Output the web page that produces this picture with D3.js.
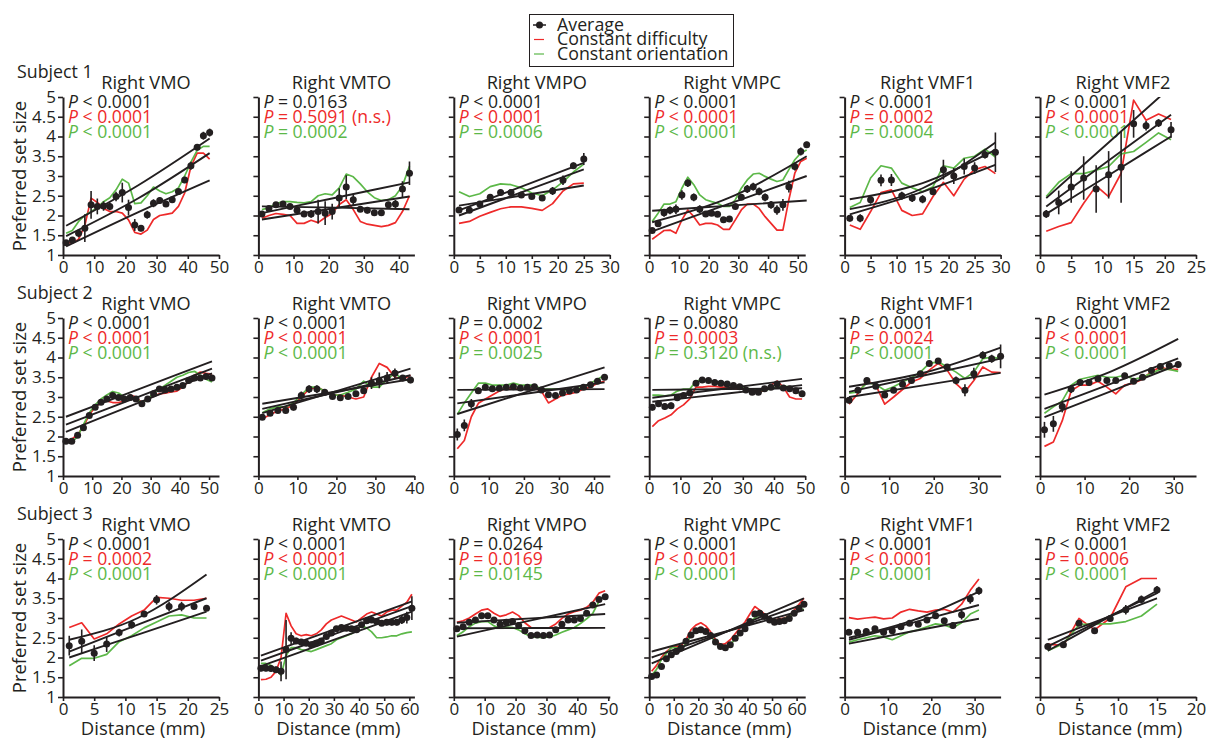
<!DOCTYPE html>
<html><head><meta charset="utf-8">
<script src="https://cdn.jsdelivr.net/npm/d3@7"></script>
<style>
body{margin:0;background:#fff}
svg{display:block}
text{font-family:"Open Sans",Lato,sans-serif;fill:#231f20}
</style>
</head><body>
<svg id="chart" width="1208" height="740"></svg>
<script>
// ---------------- DATA ----------------
const subjects = ["Subject 1", "Subject 2", "Subject 3"];
const regions = ["Right VMO", "Right VMTO", "Right VMPO", "Right VMPC", "Right VMF1", "Right VMF2"];
const distances = [1,3,5,7,9,11,13,15,17,19,21,23,25,27,29,31,33,35,37,39,41,43,45,47,49,51,53,55,57,59,61,63];
const yTicks = [1, 1.5, 2, 2.5, 3, 3.5, 4, 4.5, 5];
const legendLabels = ["Average", "Constant difficulty", "Constant orientation"];

const xMaxS1 = [50, 44.4, 30, 52.5, 30, 25];
const xMaxS2 = [53.4, 40, 44.5, 50, 35, 35];
const xMaxS3 = [25, 62, 50.5, 63.5, 36, 20];
const xTicksS1 = [[0,10,20,30,40,50],[0,10,20,30,40],[0,5,10,15,20,25,30],[0,10,20,30,40,50],[0,5,10,15,20,25,30],[0,5,10,15,20,25]];
const xTicksS2 = [[0,10,20,30,40,50],[0,10,20,30,40],[0,10,20,30,40],[0,10,20,30,40,50],[0,10,20,30],[0,10,20,30]];
const xTicksS3 = [[0,5,10,15,20,25],[0,10,20,30,40,50,60],[0,10,20,30,40,50],[0,10,20,30,40,50,60],[0,10,20,30],[0,5,10,15,20]];

// p-value texts: [average, constant difficulty, constant orientation]
const pS1 = [["< 0.0001","< 0.0001","< 0.0001"],["= 0.0163","= 0.5091 (n.s.)","= 0.0002"],["< 0.0001","< 0.0001","= 0.0006"],["< 0.0001","< 0.0001","< 0.0001"],["< 0.0001","= 0.0002","= 0.0004"],["< 0.0001","< 0.0001","< 0.0001"]];
const pS2 = [["< 0.0001","< 0.0001","< 0.0001"],["< 0.0001","< 0.0001","< 0.0001"],["= 0.0002","< 0.0001","= 0.0025"],["= 0.0080","= 0.0003","= 0.3120 (n.s.)"],["< 0.0001","= 0.0024","< 0.0001"],["< 0.0001","< 0.0001","< 0.0001"]];
const pS3 = [["< 0.0001","= 0.0002","< 0.0001"],["< 0.0001","< 0.0001","< 0.0001"],["= 0.0264","= 0.0169","= 0.0145"],["< 0.0001","< 0.0001","< 0.0001"],["< 0.0001","< 0.0001","< 0.0001"],["< 0.0001","= 0.0006","< 0.0001"]];

// Subject 1
const avgS1 = [
 [1.31,1.38,1.55,1.68,2.27,2.23,2.24,2.23,2.48,2.58,2.2,1.76,1.68,2.02,2.31,2.38,2.29,2.4,2.61,2.9,3.26,3.73,4.02,4.1],
 [2.04,2.18,2.27,2.29,2.23,2.13,2.04,2.04,2.1,2.06,2.1,2.44,2.72,2.4,2.16,2.13,2.07,2.07,2.27,2.29,2.67,3.07],
 [2.14,2.13,2.29,2.46,2.58,2.58,2.52,2.48,2.44,2.62,2.89,3.26,3.43],
 [1.62,1.79,2.07,2.13,2.16,2.52,2.82,2.46,2.16,2.04,2.06,2.03,1.89,1.91,2.23,2.46,2.67,2.73,2.61,2.46,2.27,2.14,2.27,2.73,3.24,3.62,3.79],
 [1.93,1.93,2.4,2.89,2.9,2.5,2.44,2.41,2.6,3.16,3.0,3.24,3.2,3.54,3.6],
 [2.04,2.33,2.72,2.95,2.67,3.03,3.22,4.32,4.27,4.34,4.17]];
const errS1 = [
 [0.05,0.06,0.1,0.35,0.35,0.2,0.12,0.1,0.12,0.25,0.2,0.15,0.08,0.1,0.1,0.08,0.07,0.06,0.06,0.08,0.1,0.08,0.1,0.1],
 [0.06,0.06,0.05,0.05,0.05,0.08,0.08,0.1,0.3,0.3,0.2,0.25,0.3,0.15,0.06,0.08,0.06,0.06,0.08,0.1,0.2,0.3],
 [0.06,0.06,0.05,0.05,0.05,0.05,0.05,0.05,0.07,0.1,0.12,0.08,0.15],
 [0.05,0.08,0.1,0.1,0.12,0.12,0.1,0.1,0.1,0.06,0.05,0.05,0.05,0.05,0.06,0.07,0.1,0.1,0.1,0.1,0.1,0.12,0.15,0.15,0.1,0.1,0.08],
 [0.08,0.1,0.1,0.15,0.15,0.1,0.1,0.1,0.08,0.25,0.2,0.2,0.15,0.1,0.5],
 [0.1,0.3,0.4,0.55,0.6,0.6,0.9,0.35,0.12,0.1,0.2]];
const redS1 = [
 [1.32,1.3,1.4,1.75,2.44,2.33,2.18,2.1,2.1,2.06,1.89,1.57,1.53,1.63,1.9,2.0,2.03,2.06,2.23,2.57,3.24,3.58,3.58,3.43],
 [1.93,2.0,2.05,2.03,2.0,1.8,1.8,1.88,1.82,1.95,2.05,2.28,2.4,2.15,1.85,1.78,1.75,1.72,1.75,1.82,2.1,2.5],
 [1.8,1.85,1.98,2.08,2.17,2.22,2.22,2.18,2.13,2.3,2.62,2.8,2.82],
 [1.4,1.51,1.62,1.63,1.55,1.89,2.14,1.97,1.76,1.8,1.8,1.76,1.65,1.65,1.89,2.14,2.29,2.29,2.18,1.97,1.8,1.63,1.63,2.4,3.07,3.37,3.45],
 [1.76,1.65,2.1,2.58,2.65,2.13,2.0,2.04,2.48,2.84,2.5,2.92,3.16,3.24,3.06],
 [1.6,1.72,1.82,2.31,2.75,2.48,3.07,4.92,4.41,4.57,4.43]];
const greenS1 = [
 [1.55,1.62,1.85,2.0,2.1,2.2,2.35,2.45,2.65,2.92,2.82,2.3,2.32,2.5,2.72,2.62,2.55,2.6,2.7,3.0,3.35,3.65,3.75,3.75],
 [2.15,2.2,2.3,2.35,2.35,2.33,2.32,2.35,2.5,2.55,2.52,2.7,3.05,2.98,2.8,2.6,2.45,2.38,2.4,2.5,2.75,3.25],
 [2.6,2.48,2.55,2.73,2.8,2.78,2.7,2.57,2.5,2.65,2.85,3.1,3.3],
 [1.85,2.06,2.29,2.29,2.35,2.69,2.97,2.78,2.52,2.4,2.35,2.31,2.23,2.23,2.4,2.69,2.9,3.05,3.07,2.99,2.92,2.86,2.9,3.16,3.41,3.58,3.66],
 [2.2,2.33,2.95,3.26,3.2,2.82,2.7,2.6,2.73,3.26,3.2,3.45,3.5,3.68,3.48],
 [2.48,2.84,3.06,3.06,3.15,3.24,3.56,3.62,3.85,4.09,3.92]];
const fitS1 = [
 [[1.74,2.76,3.95],[1.48,2.43,3.58],[1.22,2.08,2.89]],
 [[2.06,2.45,2.84],[1.9,2.19,2.48],[2.23,2.2,2.16]],
 [[2.25,2.76],[2.13,3.33],[2.0,3.17]],
 [[2.12,2.25,2.38],[1.83,2.45,3.5],[1.6,2.3,3.0]],
 [[2.41,2.82,3.66],[2.16,2.69,3.85],[2.03,2.6,3.28]],
 [[2.44,3.85,5.26],[2.23,3.39,4.55],[2.04,3.02,4.0]]];

// Subject 2
const avgS2 = [
 [1.88,1.88,2.03,2.22,2.53,2.74,2.87,2.95,3.04,2.99,2.95,2.99,2.95,2.83,2.95,3.08,3.2,3.18,3.2,3.25,3.29,3.42,3.48,3.48,3.52,3.48],
 [2.49,2.59,2.66,2.66,2.74,3.04,3.2,3.2,3.12,3.01,2.98,3.01,3.08,3.16,3.35,3.42,3.48,3.6,3.48,3.43],
 [2.05,2.28,2.83,3.16,3.25,3.21,3.22,3.25,3.26,3.23,3.25,3.26,3.18,3.06,3.04,3.1,3.15,3.18,3.25,3.31,3.4,3.5],
 [2.74,2.83,2.76,2.78,2.98,3.04,3.1,3.35,3.43,3.42,3.37,3.35,3.33,3.29,3.26,3.18,3.12,3.12,3.21,3.25,3.33,3.23,3.21,3.16,3.08],
 [2.92,3.17,3.42,3.27,3.05,3.17,3.32,3.42,3.59,3.85,3.91,3.76,3.42,3.17,3.59,4.06,3.97,4.03],
 [2.17,2.32,2.76,3.2,3.37,3.37,3.46,3.42,3.42,3.54,3.4,3.5,3.67,3.77,3.79,3.82]];
const errS2 = [
 [0.06,0.06,0.05,0.05,0.05,0.05,0.05,0.05,0.05,0.05,0.05,0.05,0.05,0.05,0.05,0.06,0.06,0.06,0.07,0.07,0.07,0.07,0.07,0.07,0.07,0.07],
 [0.05,0.05,0.05,0.06,0.08,0.1,0.1,0.1,0.05,0.05,0.05,0.05,0.07,0.08,0.15,0.2,0.15,0.12,0.08,0.08],
 [0.15,0.15,0.12,0.08,0.06,0.05,0.05,0.05,0.05,0.05,0.05,0.05,0.05,0.06,0.06,0.05,0.05,0.05,0.05,0.05,0.05,0.05],
 [0.08,0.06,0.08,0.08,0.07,0.07,0.07,0.07,0.05,0.05,0.05,0.05,0.05,0.05,0.05,0.05,0.06,0.06,0.05,0.05,0.05,0.06,0.06,0.07,0.08],
 [0.08,0.07,0.07,0.07,0.07,0.07,0.07,0.07,0.07,0.07,0.07,0.07,0.1,0.15,0.15,0.1,0.1,0.3],
 [0.2,0.2,0.15,0.1,0.08,0.07,0.07,0.07,0.07,0.07,0.07,0.07,0.07,0.07,0.07,0.07]];
const redS2 = [
 [1.9,1.93,2.05,2.25,2.55,2.75,2.85,2.9,2.86,2.86,2.9,3.05,3.0,2.85,2.95,3.02,3.08,3.1,3.13,3.15,3.25,3.4,3.55,3.63,3.6,3.58],
 [2.45,2.55,2.65,2.7,2.8,3.0,3.2,3.25,3.15,3.05,3.05,3.0,2.95,3.0,3.5,3.85,3.75,3.5,3.45,3.55],
 [1.69,1.9,2.5,2.84,2.95,3.05,3.15,3.22,3.2,3.2,3.2,3.22,3.15,2.85,2.95,3.05,3.08,3.12,3.2,3.25,3.35,3.4],
 [2.25,2.4,2.47,2.55,2.7,2.8,2.95,3.25,3.25,3.27,3.27,3.25,3.25,3.22,3.2,3.2,3.17,3.15,3.15,3.3,3.4,3.25,3.0,2.95,2.95],
 [2.82,3.09,3.41,3.3,2.82,3.0,3.19,3.38,3.47,3.68,3.85,3.68,3.34,3.13,3.42,3.76,3.63,3.62],
 [1.75,1.86,2.4,3.16,3.3,3.3,3.4,3.25,3.08,3.3,3.35,3.45,3.65,3.75,3.7,3.7]];
const greenS2 = [
 [1.88,1.85,2.0,2.3,2.6,2.8,2.95,3.05,3.14,3.1,3.0,2.98,2.95,2.85,2.95,3.1,3.2,3.3,3.4,3.5,3.55,3.62,3.65,3.55,3.45,3.38],
 [2.6,2.7,2.75,2.75,2.85,3.05,3.25,3.25,3.15,3.05,3.05,3.12,3.2,3.4,3.25,3.25,3.45,3.6,3.45,3.4],
 [2.56,2.85,3.1,3.35,3.35,3.3,3.3,3.3,3.35,3.3,3.3,3.3,3.2,3.2,3.2,3.2,3.15,3.2,3.25,3.35,3.45,3.55],
 [3.05,3.05,3.03,3.05,3.15,3.2,3.2,3.4,3.45,3.42,3.38,3.35,3.3,3.28,3.25,3.22,3.2,3.18,3.15,3.22,3.25,3.28,3.25,3.15,3.05],
 [3.1,3.13,3.36,3.32,3.17,3.26,3.38,3.49,3.63,3.85,3.89,3.76,3.63,3.47,3.63,3.97,4.01,3.97],
 [2.59,2.75,2.9,3.3,3.45,3.5,3.55,3.5,3.5,3.55,3.45,3.5,3.6,3.7,3.7,3.65]];
const fitS2 = [
 [[2.5,3.2,3.9],[2.3,3.01,3.72],[2.12,2.86,3.6]],
 [[2.83,3.14,3.45],[2.7,3.12,3.55],[2.59,3.15,3.72]],
 [[3.18,3.19,3.2],[2.84,3.1,3.37],[2.57,3.16,3.75]],
 [[3.18,3.2,3.22],[2.98,3.22,3.46],[2.88,3.09,3.3]],
 [[3.26,3.62,4.25],[3.13,3.55,3.97],[3.0,3.3,3.61]],
 [[3.06,3.65,4.47],[2.7,3.34,3.98],[2.49,3.15,3.82]]];

// Subject 3
const avgS3 = [
 [2.3,2.41,2.11,2.34,2.63,2.83,3.1,3.46,3.29,3.29,3.29,3.25],
 [1.73,1.73,1.72,1.69,1.65,2.2,2.49,2.42,2.39,2.36,2.32,2.36,2.42,2.53,2.62,2.73,2.76,2.74,2.73,2.7,2.83,2.93,2.95,2.91,2.87,2.89,2.89,2.89,2.95,3.01,3.25],
 [2.73,2.78,2.89,2.95,3.06,3.06,2.95,2.84,2.89,2.91,2.81,2.68,2.56,2.57,2.56,2.57,2.7,2.84,2.95,2.95,2.99,3.12,3.33,3.47,3.54],
 [1.52,1.56,1.77,1.97,2.07,2.15,2.24,2.41,2.57,2.68,2.7,2.66,2.56,2.39,2.28,2.25,2.32,2.49,2.62,2.73,2.91,3.1,3.12,3.04,2.95,2.89,2.91,2.93,2.99,3.12,3.25,3.35],
 [2.64,2.64,2.66,2.73,2.64,2.68,2.78,2.87,2.84,2.95,3.06,2.93,2.81,3.08,3.48,3.69],
 [2.28,2.32,2.87,2.68,2.99,3.21,3.47,3.71]];
const errS3 = [
 [0.25,0.3,0.2,0.2,0.1,0.1,0.07,0.12,0.12,0.12,0.07,0.07],
 [0.08,0.08,0.08,0.08,0.25,0.75,0.15,0.08,0.06,0.06,0.06,0.06,0.06,0.06,0.06,0.06,0.06,0.06,0.05,0.05,0.06,0.06,0.06,0.07,0.07,0.08,0.08,0.08,0.1,0.15,0.3],
 [0.04,0.04,0.04,0.04,0.04,0.04,0.04,0.04,0.04,0.04,0.04,0.04,0.04,0.04,0.04,0.04,0.04,0.04,0.04,0.04,0.04,0.04,0.04,0.04,0.04],
 [0.05,0.05,0.05,0.05,0.05,0.05,0.05,0.05,0.05,0.05,0.05,0.05,0.05,0.05,0.05,0.05,0.05,0.05,0.05,0.05,0.05,0.05,0.05,0.05,0.05,0.05,0.05,0.05,0.05,0.05,0.05,0.05],
 [0.07,0.07,0.07,0.07,0.08,0.08,0.07,0.07,0.07,0.07,0.07,0.07,0.07,0.12,0.12,0.1],
 [0.07,0.07,0.07,0.07,0.07,0.12,0.1,0.1]];
const redS3 = [
 [2.76,2.88,2.47,2.6,2.85,3.05,3.2,3.52,3.5,3.45,3.45,3.5],
 [1.44,1.45,1.5,1.65,2.0,3.12,2.8,2.6,2.55,2.58,2.55,2.6,2.7,2.85,2.95,3.0,3.05,3.0,2.95,2.9,3.0,3.1,3.15,3.1,3.05,3.15,3.2,3.2,3.3,3.4,3.6],
 [2.89,2.93,3.0,3.1,3.2,3.23,3.12,3.04,3.08,3.15,3.06,2.88,2.76,2.75,2.74,2.76,2.85,2.99,3.1,3.16,3.2,3.27,3.4,3.63,3.69],
 [1.65,1.8,2.0,2.15,2.25,2.28,2.3,2.45,2.7,2.82,2.88,2.8,2.65,2.45,2.32,2.35,2.45,2.6,2.75,2.9,3.1,3.29,3.2,3.1,3.0,2.95,2.98,3.0,3.05,3.2,3.35,3.5],
 [3.01,2.97,3.0,3.02,2.98,3.0,3.15,3.22,3.18,3.15,3.2,3.22,3.15,3.35,3.7,3.99],
 [2.34,2.3,2.99,2.7,3.0,3.79,4.0,4.0]];
const greenS3 = [
 [1.79,1.98,1.98,2.08,2.4,2.55,2.75,2.9,3.05,3.08,3.0,3.0],
 [1.85,1.85,1.8,1.7,1.55,2.05,2.25,2.25,2.2,2.18,2.15,2.2,2.25,2.3,2.35,2.45,2.5,2.55,2.6,2.7,2.8,2.75,2.65,2.5,2.5,2.52,2.55,2.55,2.6,2.63,2.65],
 [2.55,2.65,2.78,2.87,2.91,2.91,2.8,2.74,2.77,2.76,2.7,2.6,2.53,2.51,2.51,2.52,2.57,2.64,2.7,2.76,2.86,2.98,3.12,3.42,3.6],
 [1.55,1.7,1.95,2.1,2.25,2.25,2.22,2.35,2.55,2.65,2.72,2.68,2.55,2.38,2.27,2.25,2.32,2.47,2.6,2.75,2.9,3.0,3.08,3.05,2.98,2.95,2.95,2.98,3.05,3.12,3.2,3.22],
 [2.39,2.45,2.5,2.55,2.52,2.45,2.55,2.65,2.7,2.78,2.85,2.82,2.75,2.88,3.1,3.2],
 [2.17,2.35,2.83,2.85,2.85,2.91,3.05,3.35]];
const fitS3 = [
 [[2.45,3.0,4.1],[2.15,2.83,3.5],[2.0,2.58,3.16]],
 [[2.05,2.73,3.42],[1.92,2.61,3.3],[1.78,2.47,3.16]],
 [[2.88,2.99,3.1],[2.74,2.745,2.75],[2.53,2.94,3.35]],
 [[2.15,2.67,3.2],[2.0,2.67,3.35],[1.85,2.67,3.5]],
 [[2.5,2.95,3.67],[2.45,2.89,3.33],[2.35,2.67,2.98]],
 [[2.45,2.97,3.5],[2.28,2.96,3.63],[2.17,2.93,3.69]]];

// ---------------- LAYOUT / STYLE ----------------
const FONT = "'Open Sans', Lato, sans-serif";
const COL = {black: "#231f20", red: "#ee2a2a", green: "#5cb848"};
const colX = [63, 258.4, 453.8, 649.2, 844.6, 1040];
const panelW = 156;
const rowTop = [97, 318, 539];
const panelH = 158;

const rows = [
  {avg: avgS1, err: errS1, red: redS1, green: greenS1, fit: fitS1, p: pS1, xMax: xMaxS1, xTicks: xTicksS1},
  {avg: avgS2, err: errS2, red: redS2, green: greenS2, fit: fitS2, p: pS2, xMax: xMaxS2, xTicks: xTicksS2},
  {avg: avgS3, err: errS3, red: redS3, green: greenS3, fit: fitS3, p: pS3, xMax: xMaxS3, xTicks: xTicksS3}
];

const svg = d3.select("#chart");
const defs = svg.append("defs");

function styleAxis(sel) {
  sel.select(".domain").attr("stroke", COL.black).attr("stroke-width", 2);
  sel.selectAll(".tick line").attr("stroke", COL.black).attr("stroke-width", 1.6);
  sel.selectAll(".tick text").attr("fill", COL.black).style("font-size", "17px")
     .style("font-family", FONT);
}

rows.forEach((R, r) => {
  const y0 = rowTop[r];
  svg.append("text").attr("x", 17).attr("y", y0 - 19).style("font-size", "17.8px").text(subjects[r]);
  svg.append("text")
    .attr("transform", `translate(26,${y0 + panelH / 2}) rotate(-90)`)
    .attr("text-anchor", "middle").style("font-size", "18.5px").text("Preferred set size");

  regions.forEach((reg, c) => {
    const x0 = colX[c];
    const n = R.avg[c].length;
    const xs = distances.slice(0, n);
    const x = d3.scaleLinear().domain([0, R.xMax[c]]).range([x0, x0 + panelW]);
    const y = d3.scaleLinear().domain([1, 5]).range([y0 + panelH, y0]);
    const g = svg.append("g");

    const clipId = `clip-${r}-${c}`;
    defs.append("clipPath").attr("id", clipId).append("rect")
      .attr("x", x0 - 6).attr("y", y(5)).attr("width", panelW + 12).attr("height", panelH);

    // title
    g.append("text").attr("x", x0 + 83).attr("y", y0 - 8).attr("text-anchor", "middle")
      .style("font-size", "18.2px").text(reg);

    // axes
    const xa = d3.axisBottom(x).tickValues(R.xTicks[c]).tickSize(4).tickSizeOuter(0).tickPadding(2)
      .tickFormat(d3.format("d"));
    g.append("g").attr("transform", `translate(0,${y0 + panelH})`).call(xa).call(styleAxis);
    const ya = d3.axisLeft(y).tickValues(yTicks).tickSize(5).tickSizeOuter(0).tickPadding(2)
      .tickFormat(c === 0 ? (d => String(d)) : (() => ""));
    g.append("g").attr("transform", `translate(${x0},0)`).call(ya).call(styleAxis);

    // p-values
    const pc = [COL.black, COL.red, COL.green];
    R.p[c].forEach((s, k) => {
      const t = g.append("text").attr("x", x0 + 5).attr("y", y0 + 11 + 15 * k)
        .style("font-size", "17.6px").attr("fill", pc[k]).style("fill", pc[k]);
      t.append("tspan").style("font-style", "italic").text("P");
      t.append("tspan").text("\u00a0" + s);
    });

    const plot = g.append("g").attr("clip-path", `url(#${clipId})`);
    const line = d3.line().x((d, i) => x(xs[i])).y(d => y(d)).curve(d3.curveLinear);

    plot.append("path").datum(R.red[c]).attr("d", line).attr("fill", "none")
      .attr("stroke", COL.red).attr("stroke-width", 1.7).attr("stroke-linejoin", "round");
    plot.append("path").datum(R.green[c]).attr("d", line).attr("fill", "none")
      .attr("stroke", COL.green).attr("stroke-width", 1.7).attr("stroke-linejoin", "round");

    // fit lines: values spread evenly from first to last distance
    const xFirst = xs[0], xLast = xs[n - 1];
    R.fit[c].forEach(f => {
      const fx = d3.scaleLinear().domain([0, f.length - 1]).range([xFirst, xLast]);
      const fl = d3.line().x((d, i) => x(fx(i))).y(d => y(d)).curve(d3.curveNatural);
      plot.append("path").datum(f).attr("d", fl).attr("fill", "none")
        .attr("stroke", COL.black).attr("stroke-width", 1.9);
    });

    // error bars + points
    const pts = plot.selectAll("g.pt").data(R.avg[c]).join("g").attr("class", "pt");
    pts.append("line")
      .attr("x1", (d, i) => x(xs[i])).attr("x2", (d, i) => x(xs[i]))
      .attr("y1", (d, i) => y(d - R.err[c][i])).attr("y2", (d, i) => y(d + R.err[c][i]))
      .attr("stroke", COL.black).attr("stroke-width", 1.6);
    pts.append("circle").attr("cx", (d, i) => x(xs[i])).attr("cy", d => y(d))
      .attr("r", 3.5).attr("fill", COL.black);

    if (r === 2) {
      g.append("text").attr("x", x0 + 80).attr("y", 735).attr("text-anchor", "middle")
        .style("font-size", "18.5px").text("Distance (mm)");
    }
  });
});

// legend
const lg = svg.append("g");
lg.append("rect").attr("x", 529.5).attr("y", 14.5).attr("width", 204).attr("height", 52)
  .attr("fill", "#fff").attr("stroke", COL.black).attr("stroke-width", 1);
const lc = [COL.black, COL.red, COL.green];
legendLabels.forEach((lab, i) => {
  const ly = 25 + i * 14.5;
  if (i === 0) {
    lg.append("line").attr("x1", 533).attr("x2", 546).attr("y1", ly).attr("y2", ly)
      .attr("stroke", COL.black).attr("stroke-width", 1.5);
    lg.append("circle").attr("cx", 539.5).attr("cy", ly).attr("r", 3.5).attr("fill", COL.black);
  } else {
    lg.append("line").attr("x1", 534).attr("x2", 544).attr("y1", ly).attr("y2", ly)
      .attr("stroke", lc[i]).attr("stroke-width", 1.2);
  }
  lg.append("text").attr("x", 557).attr("y", ly + 5.5).style("font-size", "17.8px").text(lab);
});
</script>
</body></html>
